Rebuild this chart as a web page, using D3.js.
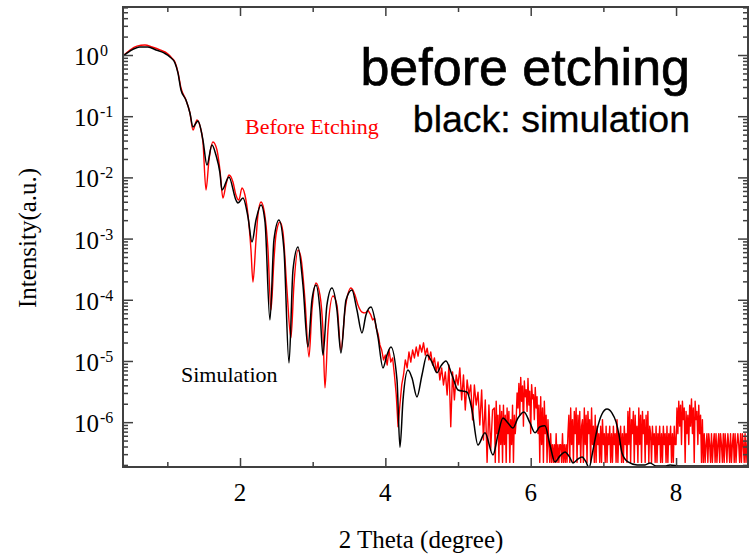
<!DOCTYPE html>
<html><head><meta charset="utf-8">
<script src="https://cdn.jsdelivr.net/npm/d3@7"></script>
<style>body{margin:0;background:#fff}</style>
</head><body>
<svg id="c" width="749" height="555"></svg>
<script>
// ---- data ----
const simX = [0.389,0.486,0.623,0.733,0.844,0.954,1.036,1.105,1.146,1.188,1.256,1.311,1.353,1.422,1.490,1.545,1.614,1.669,1.724,1.752,1.848,1.944,1.972,2.041,2.110,2.165,2.220,2.289,2.344,2.412,2.467,2.536,2.605,2.674,2.729,2.798,2.866,2.935,2.990,3.045,3.100,3.141,3.196,3.265,3.334,3.389,3.458,3.540,3.609,3.678,3.733,3.802,3.898,3.967,4.022,4.077,4.160,4.201,4.243,4.311,4.366,4.435,4.504,4.573,4.641,4.710,4.765,4.834,4.917,4.999,5.123,5.192,5.274,5.371,5.481,5.549,5.618,5.687,5.756,5.825,5.907,5.990,6.059,6.127,6.196,6.265,6.334,6.403,6.472,6.541,6.582,6.651,6.706,6.761,6.802,6.857,6.912,6.981,7.050,7.119,7.174,7.215,7.256,7.339,7.463,7.573,7.642,7.724,7.848,7.917,8.055,8.330,8.605,8.99];
const simY = [0.96,1.16,1.35,1.35,1.21,1.08,0.93,0.74,0.51,0.268,0.184,0.113,0.0667,0.0835,0.0408,0.01595,0.0338,0.0232,0.0118,0.00622,0.01016,0.00427,0.00382,0.00461,0.00225,0.00088,0.00201,0.00354,0.00187,4.68e-5,9.5e-4,0.00201,6.5e-4,9.3e-6,3.07e-4,7.3e-4,1.75e-4,1.69e-5,9.9e-5,1.75e-4,6.8e-5,1.25e-5,8.2e-5,1.56e-4,6.8e-5,1.35e-5,9.9e-5,1.45e-4,6.8e-5,2.87e-5,5.65e-5,7.6e-5,2.47e-5,7.7e-6,1.25e-5,1.69e-5,4.9e-6,3.9e-7,2.31e-6,7.1e-6,5.3e-6,2.58e-6,5.9e-6,1.25e-5,9.6e-6,6.4e-6,8.3e-6,1.0e-5,5.9e-6,3.36e-6,3.11e-6,1.58e-6,4.24e-7,6.7e-7,2.91e-7,6.2e-7,1.17e-6,9.7e-7,8.0e-7,1.17e-6,1.47e-6,9.7e-7,6.7e-7,8.4e-7,8.7e-7,4.24e-7,2.24e-7,2.81e-7,3.26e-7,2.6e-7,2.15e-7,2.5e-7,2.7e-7,2.24e-7,1.79e-7,3.5e-7,7.5e-7,1.36e-6,1.64e-6,1.41e-6,1.01e-6,6.2e-7,3.14e-7,2.24e-7,2.0e-7,2.0e-7,2.15e-7,1.92e-7,1.92e-7,2.0e-7,1.92e-7,1.92e-7,1.92e-7,1.92e-7];

// measured curve, low-angle part (explicit points)
const expX = [0.389,0.486,0.582,0.692,0.789,0.899,1.009,1.064,1.105,1.146,1.188,1.256,1.311,1.353,1.408,1.449,1.490,1.532,1.573,1.628,1.683,1.724,1.765,1.806,1.848,1.903,1.944,1.985,2.027,2.068,2.110,2.151,2.178,2.220,2.247,2.289,2.330,2.385,2.426,2.467,2.495,2.550,2.591,2.646,2.701,2.742,2.798,2.839,2.894,2.949,2.990,3.045,3.100,3.141,3.169,3.210,3.279,3.334,3.389,3.445,3.527,3.582,3.623,3.678,3.719,3.760];
const expY = [0.96,1.21,1.40,1.46,1.35,1.21,1.04,0.89,0.77,0.527,0.289,0.184,0.113,0.0595,0.0867,0.0691,0.0379,0.00622,0.0192,0.0379,0.0280,0.0132,0.00461,0.00751,0.01094,0.00841,0.00516,0.00427,0.00671,0.00516,0.00243,6.5e-4,1.95e-4,9.5e-4,0.00243,0.00396,0.00293,6.5e-4,6.8e-5,4.47e-4,0.001146,0.00187,0.00128,1.45e-4,2.38e-5,1.75e-4,6.5e-4,4.82e-4,9.9e-5,1.16e-5,6.8e-5,1.88e-4,1.2e-4,3.21e-5,3.62e-6,3.21e-5,1.15e-4,8.2e-5,1.51e-5,6.8e-5,1.56e-4,1.2e-4,8.2e-5,6.3e-5,6.1e-5,6.8e-5];

// measured curve, mid-angle scan (fixed step)
const scanAStart = 3.8, scanAStep = 0.025;
const scanAY = [
5.65e-5,4.68e-5,5.0e-5,3.45e-5,2.76e-5,1.83e-5,1.51e-5,1.04e-5,
1.25e-5,8.6e-6,1.51e-5,9.6e-6,1.12e-5,5.9e-6,
2.78e-6,8.4e-7,1.91e-6,4.05e-6,
5.9e-6,1.04e-5,7.7e-6,1.4e-5,9.6e-6,1.51e-5,1.12e-5,1.69e-5,1.2e-5,1.83e-5,
1.4e-5,1.98e-5,1.25e-5,1.62e-5,1.04e-5,1.4e-5,
8.6e-6,1.12e-5,6.6e-6,9.6e-6,4.9e-6,7.7e-6,4.05e-6,6.6e-6,
2.78e-6,8.6e-6,8.4e-7,6.6e-6,2.31e-6,5.9e-6,
4.05e-6,7.7e-6,2.31e-6,5.9e-6,1.58e-6,4.9e-6,2.78e-6,4.05e-6,
1.09e-6,4.05e-6,1.91e-6,3.1e-6,9.0e-7,3.36e-6,5.1e-7,2.31e-6,
2.2e-7,1.91e-6,3.5e-7,1.58e-6
];
// measured curve, high-angle scan (finer step, count-limited)
const scanBStart = 5.5, scanBStep = 0.0125;
const scanBY = [
1.7e-6,2.2e-7,2.2e-6,6.5e-7,1.3e-6,2.2e-7,1.9e-6,4.3e-7,1.5e-6,2.2e-7,
1.9e-6,4.3e-7,1.3e-6,2.2e-7,1.7e-6,6.5e-7,1.5e-6,2.2e-7,1.1e-6,4.3e-7,1.9e-6,2.2e-7,1.3e-6,6.5e-7,
1.1e-6,3.0e-6,1.7e-6,4.3e-6,1.3e-6,5.4e-6,2.2e-6,3.9e-6,8.6e-7,4.7e-6,2.6e-6,3.4e-6,1.5e-6,5.2e-6,1.9e-6,3.2e-6,6.5e-7,4.1e-6,2.4e-6,2.8e-6,1.1e-6,3.7e-6,1.7e-6,2.6e-6,6.5e-7,1.9e-6,
2.2e-7,2.6e-6,4.3e-7,1.7e-6,2.2e-7,2.2e-6,6.5e-7,1.3e-6,2.2e-7,1.1e-6,
4.3e-7,2.2e-7,6.5e-7,2.2e-7,4.3e-7,2.2e-7,4.3e-7,2.2e-7,6.5e-7,2.2e-7,4.3e-7,2.2e-7,4.3e-7,4.3e-7,2.2e-7,6.5e-7,2.2e-7,4.3e-7,2.2e-7,4.3e-7,2.2e-7,6.5e-7,
1.3e-6,2.2e-7,1.7e-6,4.3e-7,1.1e-6,2.2e-7,1.5e-6,6.5e-7,1.7e-6,2.2e-7,1.3e-6,4.3e-7,1.5e-6,2.2e-7,8.6e-7,1.1e-6,2.2e-7,1.7e-6,4.3e-7,1.3e-6,2.2e-7,1.5e-6,6.5e-7,1.1e-6,2.2e-7,1.7e-6,4.3e-7,8.6e-7,2.2e-7,1.3e-6,
2.2e-7,8.6e-7,4.3e-7,6.5e-7,2.2e-7,8.6e-7,2.2e-7,1.1e-6,4.3e-7,6.5e-7,2.2e-7,8.6e-7,2.2e-7,6.5e-7,4.3e-7,8.6e-7,2.2e-7,6.5e-7,2.2e-7,8.6e-7,4.3e-7,6.5e-7,2.2e-7,1.1e-6,2.2e-7,6.5e-7,4.3e-7,8.6e-7,2.2e-7,6.5e-7,2.2e-7,8.6e-7,4.3e-7,6.5e-7,
2.2e-7,1.5e-6,4.3e-7,1.7e-6,2.2e-7,1.1e-6,6.5e-7,1.5e-6,2.2e-7,1.3e-6,4.3e-7,8.6e-7,2.2e-7,1.7e-6,4.3e-7,1.3e-6,2.2e-7,1.5e-6,6.5e-7,1.1e-6,2.2e-7,1.3e-6,4.3e-7,1.5e-6,2.2e-7,8.6e-7,
6.5e-7,2.2e-7,8.6e-7,4.3e-7,6.5e-7,2.2e-7,8.6e-7,2.2e-7,6.5e-7,4.3e-7,8.6e-7,2.2e-7,6.5e-7,2.2e-7,8.6e-7,4.3e-7,6.5e-7,2.2e-7,8.6e-7,2.2e-7,6.5e-7,4.3e-7,8.6e-7,2.2e-7,6.5e-7,2.2e-7,8.6e-7,4.3e-7,
4.3e-7,1.7e-6,6.5e-7,2.2e-6,8.6e-7,1.9e-6,4.3e-7,2.2e-6,1.1e-6,1.7e-6,2.2e-7,1.5e-6,6.5e-7,1.3e-6,4.3e-7,1.9e-6,8.6e-7,2.4e-6,6.5e-7,1.7e-6,2.2e-7,2.2e-6,1.1e-6,1.5e-6,4.3e-7,1.9e-6,6.5e-7,1.3e-6,2.2e-7,1.1e-6,
2.2e-7,6.5e-7,2.2e-7,4.3e-7,6.5e-7,2.2e-7,6.5e-7,4.3e-7,2.2e-7,6.5e-7,2.2e-7,4.3e-7,6.5e-7,2.2e-7,6.5e-7,2.2e-7,4.3e-7,6.5e-7,2.2e-7,6.5e-7,4.3e-7,2.2e-7,6.5e-7,2.2e-7,6.5e-7,4.3e-7,2.2e-7,6.5e-7,4.3e-7,2.2e-7,6.5e-7,2.2e-7,4.3e-7,6.5e-7,2.2e-7,6.5e-7,2.2e-7,4.3e-7,6.5e-7,4.3e-7,2.2e-7,6.5e-7,2.2e-7,6.5e-7,4.3e-7,2.2e-7,6.5e-7,2.2e-7,4.3e-7,6.5e-7,2.2e-7
];

const xDomain = [0.39, 8.99];
const yDomain = [1.85e-7, 6.09];
const xMajorTicks = [2, 4, 6, 8];
const xMinorTicks = [1, 3, 5, 7];
const xTickLabels = ["2", "4", "6", "8"];
const yMajorTicks = [1, 1e-1, 1e-2, 1e-3, 1e-4, 1e-5, 1e-6];
const yTickExponents = ["0", "-1", "-2", "-3", "-4", "-5", "-6"];

// ---- layout ----
const L = 123, R = 748, T = 7, B = 467;
const svg = d3.select("#c");
const x = d3.scaleLinear().domain(xDomain).range([L, R]);
const y = d3.scaleLog().domain(yDomain).range([B, T]);

const serif = "'Liberation Serif','Times New Roman',serif";
const sans = "'Liberation Sans',Arial,sans-serif";

svg.append("defs").append("clipPath").attr("id", "clip")
  .append("rect").attr("x", L).attr("y", T).attr("width", R - L).attr("height", B - T);

const simData = simX.map((v, i) => [v, simY[i]]);
const expData = expX.map((v, i) => [v, expY[i]]);
const scanData = [expData[expData.length - 1]]
  .concat(scanAY.map((v, i) => [scanAStart + i * scanAStep, v]))
  .concat(scanBY.map((v, i) => [scanBStart + i * scanBStep, v]));

const smooth = d3.line().x(d => x(d[0])).y(d => y(d[1])).curve(d3.curveMonotoneX);
const raw = d3.line().x(d => x(d[0])).y(d => y(d[1]));
const g = svg.append("g").attr("clip-path", "url(#clip)");
g.append("path").datum(expData).attr("d", smooth)
  .attr("fill", "none").attr("stroke", "#ff0000").attr("stroke-width", 1.4).attr("stroke-linejoin", "round");
g.append("path").datum(scanData).attr("d", raw)
  .attr("fill", "none").attr("stroke", "#ff0000").attr("stroke-width", 1.4).attr("stroke-linejoin", "round");
g.append("path").datum(simData).attr("d", smooth)
  .attr("fill", "none").attr("stroke", "#000").attr("stroke-width", 1.5).attr("stroke-linejoin", "round");

// ---- axes ----
const axisColor = "#404040";
const yMinor = y.ticks().filter(v => !yMajorTicks.some(m => Math.abs(m - v) / m < 1e-6));
function styleAxis(sel) {
  sel.select(".domain").remove();
  sel.selectAll("line").attr("stroke", axisColor).attr("stroke-width", 1.5);
  sel.selectAll("text").remove();
}
svg.append("g").attr("transform", `translate(0,${B})`)
  .call(d3.axisBottom(x).tickValues(xMajorTicks).tickSize(-9).tickSizeOuter(0)).call(styleAxis);
svg.append("g").attr("transform", `translate(0,${B})`)
  .call(d3.axisBottom(x).tickValues(xMinorTicks).tickSize(-5).tickSizeOuter(0)).call(styleAxis);
svg.append("g").attr("transform", `translate(0,${T})`)
  .call(d3.axisTop(x).tickValues(xMajorTicks).tickSize(-9).tickSizeOuter(0)).call(styleAxis);
svg.append("g").attr("transform", `translate(0,${T})`)
  .call(d3.axisTop(x).tickValues(xMinorTicks).tickSize(-5).tickSizeOuter(0)).call(styleAxis);
svg.append("g").attr("transform", `translate(${L},0)`)
  .call(d3.axisLeft(y).tickValues(yMajorTicks).tickSize(-10).tickSizeOuter(0)).call(styleAxis);
svg.append("g").attr("transform", `translate(${L},0)`)
  .call(d3.axisLeft(y).tickValues(yMinor).tickSize(-5).tickSizeOuter(0)).call(styleAxis);
svg.append("g").attr("transform", `translate(${R},0)`)
  .call(d3.axisRight(y).tickValues(yMajorTicks).tickSize(-10).tickSizeOuter(0)).call(styleAxis);
svg.append("g").attr("transform", `translate(${R},0)`)
  .call(d3.axisRight(y).tickValues(yMinor).tickSize(-5).tickSizeOuter(0)).call(styleAxis);

svg.append("rect").attr("x", L).attr("y", T).attr("width", R - L).attr("height", B - T)
  .attr("fill", "none").attr("stroke", axisColor).attr("stroke-width", 2);

// x tick labels
svg.append("g").selectAll("text").data(xMajorTicks).join("text")
  .attr("x", d => x(d)).attr("y", 501)
  .attr("text-anchor", "middle").attr("font-family", serif).attr("font-size", 25)
  .attr("fill", "#000").text((d, i) => xTickLabels[i]);

// y tick labels
const yl = svg.append("g").selectAll("g").data(yMajorTicks).join("g");
yl.append("text").attr("x", 99).attr("y", d => y(d) + 10)
  .attr("text-anchor", "end").attr("font-family", serif).attr("font-size", 25)
  .attr("fill", "#000").text("10");
yl.append("text").attr("x", 100).attr("y", d => y(d) + 1)
  .attr("font-family", serif).attr("font-size", 16)
  .attr("fill", "#000").text((d, i) => yTickExponents[i]);

// axis titles
svg.append("text").attr("x", 421).attr("y", 548).attr("text-anchor", "middle")
  .attr("font-family", serif).attr("font-size", 25).attr("fill", "#000").text("2 Theta (degree)");
svg.append("text").attr("transform", "translate(36,238) rotate(-90)").attr("text-anchor", "middle")
  .attr("font-family", serif).attr("font-size", 25).attr("fill", "#000").text("Intensity(a.u.)");

// annotations
svg.append("text").attr("x", 690).attr("y", 85).attr("text-anchor", "end")
  .attr("font-family", sans).attr("font-size", 52).attr("fill", "#000")
  .attr("stroke", "#000").attr("stroke-width", 0.7).text("before etching");
svg.append("text").attr("x", 690).attr("y", 132).attr("text-anchor", "end")
  .attr("font-family", sans).attr("font-size", 37.5).attr("fill", "#000")
  .attr("stroke", "#000").attr("stroke-width", 0.3).text("black: simulation");
svg.append("text").attr("x", 245).attr("y", 134)
  .attr("font-family", serif).attr("font-size", 22).attr("fill", "#ff0000").text("Before Etching");
svg.append("text").attr("x", 181).attr("y", 382)
  .attr("font-family", serif).attr("font-size", 22).attr("fill", "#000").text("Simulation");
</script></body></html>
